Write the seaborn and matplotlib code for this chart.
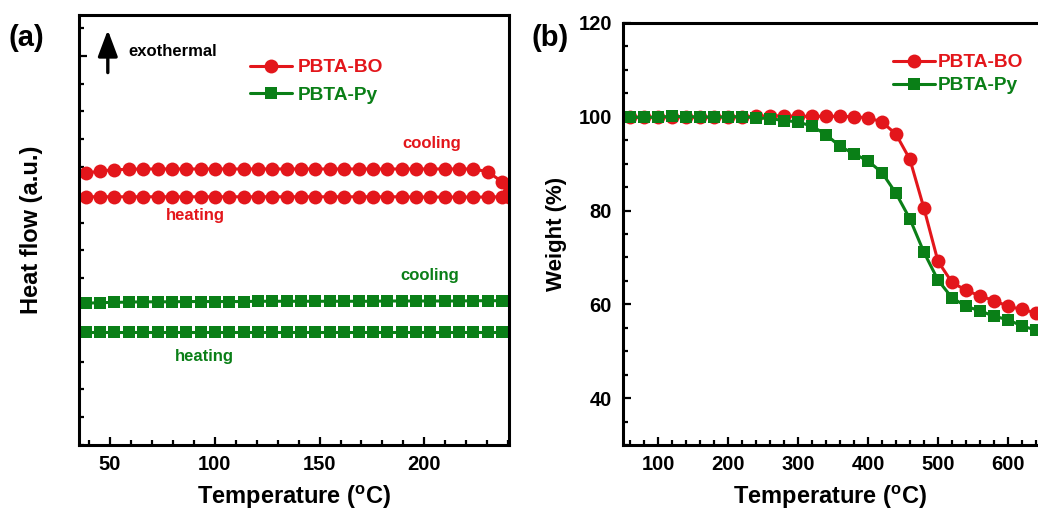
import numpy as np
import pandas as pd
import seaborn as sns
import matplotlib.pyplot as plt
from matplotlib.lines import Line2D
from matplotlib.ticker import MultipleLocator, FixedLocator, NullFormatter

sns.set_style("ticks")
plt.rcParams['font.family'] = ['Liberation Sans', 'DejaVu Sans']
plt.rcParams['font.weight'] = 'bold'
plt.rcParams['mathtext.fontset'] = 'custom'
plt.rcParams['mathtext.rm'] = 'Liberation Sans:bold'
plt.rcParams['mathtext.it'] = 'Liberation Sans:bold'
plt.rcParams['mathtext.default'] = 'rm'
for k in ['text.color', 'axes.labelcolor', 'xtick.color', 'ytick.color', 'axes.edgecolor']:
    plt.rcParams[k] = 'black'

RED = '#E3161B'
GREEN = '#0A7F17'

# (a) DSC - temperatury i przesuniete krzywe (j. umowne)
temp_a = [38.4, 45.3, 52.1, 59.0, 65.8, 72.7, 79.5, 86.4, 93.2, 100.1, 107.0, 113.8, 120.7, 127.5, 134.4,
          141.2, 148.0, 154.9, 161.7, 168.6, 175.4, 182.3, 189.1, 196.0, 202.8, 209.7, 216.5, 223.4, 230.2,
          237.1, 240.5]
bo_heat = [8.93, 8.93, 8.93, 8.93, 8.93, 8.93, 8.93, 8.93, 8.93, 8.93, 8.93, 8.93, 8.93, 8.93, 8.93,
           8.93, 8.93, 8.93, 8.93, 8.93, 8.93, 8.93, 8.93, 8.92, 8.92, 8.92, 8.92, 8.92, 8.92, 8.93, 8.93]
bo_cool = [9.77, 9.86, 9.90, 9.92, 9.93, 9.93, 9.93, 9.93, 9.93, 9.93, 9.93, 9.93, 9.93, 9.93, 9.93,
           9.93, 9.93, 9.93, 9.93, 9.93, 9.93, 9.93, 9.93, 9.93, 9.93, 9.93, 9.93, 9.93, 9.83, 9.47, 9.11]
py_heat = [4.08, 4.08, 4.08, 4.08, 4.08, 4.08, 4.08, 4.08, 4.08, 4.08, 4.08, 4.08, 4.08, 4.08, 4.08,
           4.08, 4.08, 4.08, 4.08, 4.08, 4.08, 4.08, 4.08, 4.08, 4.08, 4.08, 4.08, 4.08, 4.08, 4.08, 4.08]
py_cool = [5.10, 5.12, 5.13, 5.14, 5.15, 5.15, 5.15, 5.16, 5.16, 5.16, 5.16, 5.16, 5.17, 5.17, 5.17,
           5.17, 5.17, 5.17, 5.17, 5.17, 5.17, 5.18, 5.18, 5.18, 5.18, 5.18, 5.18, 5.19, 5.19, 5.19, 5.19]

# (b) TGA
temp_b = [60, 80, 100, 120, 140, 160, 180, 200, 220, 240, 260, 280, 300, 320, 340,
          360, 380, 400, 420, 440, 460, 480, 500, 520, 540, 560, 580, 600, 620, 640]
bo_tga = [99.9, 99.9, 99.9, 100.0, 99.9, 99.9, 99.9, 100.0, 100.0, 100.1, 100.2, 100.2, 100.1, 100.1, 100.1,
          100.1, 100.0, 99.8, 98.9, 96.3, 90.9, 80.5, 69.2, 64.7, 63.0, 61.8, 60.8, 59.6, 58.9, 58.2]
py_tga = [99.9, 99.9, 99.9, 100.1, 100.0, 100.0, 99.9, 100.0, 100.0, 99.8, 99.6, 99.2, 98.9, 98.0, 96.2,
          93.7, 92.1, 90.6, 88.1, 83.7, 78.2, 71.1, 65.2, 61.4, 59.6, 58.6, 57.5, 56.7, 55.4, 54.5]

fig = plt.figure(figsize=(10.38, 5.11), dpi=100)
ax1 = fig.add_axes([0.0761, 0.1292, 0.4143, 0.8415])
ax2 = fig.add_axes([0.6002, 0.1292, 0.3998, 0.8258])

kw_bo = dict(color=RED, marker='o', markersize=10, linewidth=2.2, markeredgewidth=0, sort=False)
kw_py = dict(color=GREEN, marker='s', markersize=8.2, linewidth=2.2, markeredgewidth=0, sort=False)

sns.lineplot(x=temp_a, y=bo_heat, ax=ax1, **kw_bo)
sns.lineplot(x=temp_a, y=bo_cool, ax=ax1, **kw_bo)
sns.lineplot(x=temp_a, y=py_heat, ax=ax1, **kw_py)
sns.lineplot(x=temp_a, y=py_cool, ax=ax1, **kw_py)

sns.lineplot(x=temp_b, y=bo_tga, ax=ax2, **kw_bo)
sns.lineplot(x=temp_b, y=py_tga, ax=ax2, **kw_py)

def styl(ax):
    for s in ax.spines.values():
        s.set_linewidth(2.2)
    ax.tick_params(which='both', direction='in', width=1.6, labelsize=14.5)
    ax.tick_params(which='major', length=6, pad=7)
    ax.tick_params(which='minor', length=3.5)
    for lab in ax.get_xticklabels() + ax.get_yticklabels():
        lab.set_fontweight('bold')

# panel a
ax1.set_xlim(35.2, 240.4)
ax1.set_ylim(0, 15.47)
ax1.xaxis.set_major_locator(MultipleLocator(50))
ax1.xaxis.set_minor_locator(MultipleLocator(10))
ax1.yaxis.set_major_locator(FixedLocator([4, 9, 14]))
ax1.yaxis.set_minor_locator(MultipleLocator(1))
ax1.yaxis.set_major_formatter(NullFormatter())
styl(ax1)
ax1.set_xlabel('Temperature ($^{o}$C)', fontsize=17, fontweight='bold')
ax1.set_ylabel('Heat flow (a.u.)', fontsize=17, fontweight='bold')
ax1.xaxis.set_label_coords(0.5, -0.09)
ax1.xaxis.label.set_va('top')
ax1.yaxis.set_label_coords(-0.084, 0.5)

ax1.annotate('', xy=(0.067, 0.965), xytext=(0.067, 0.866), xycoords='axes fraction',
             arrowprops=dict(arrowstyle='-|>,head_width=0.3,head_length=0.8', lw=2.4, color='k',
                             mutation_scale=20, shrinkA=0, shrinkB=0))
ax1.text(0.114, 0.914, 'exothermal', transform=ax1.transAxes, fontsize=12,
         fontweight='bold', va='center')
ax1.text(0.753, 0.702, 'cooling', transform=ax1.transAxes, fontsize=12, color=RED, fontweight='bold', va='center')
ax1.text(0.202, 0.533, 'heating', transform=ax1.transAxes, fontsize=12, color=RED, fontweight='bold', va='center')
ax1.text(0.747, 0.395, 'cooling', transform=ax1.transAxes, fontsize=12, color=GREEN, fontweight='bold', va='center')
ax1.text(0.223, 0.205, 'heating', transform=ax1.transAxes, fontsize=12, color=GREEN, fontweight='bold', va='center')

uchwyty = [Line2D([], [], color=RED, marker='o', markersize=10, lw=2.2, markeredgewidth=0),
           Line2D([], [], color=GREEN, marker='s', markersize=8.2, lw=2.2, markeredgewidth=0)]
ax1.legend(uchwyty, ['PBTA-BO', 'PBTA-Py'], loc='upper left', bbox_to_anchor=(0.398, 0.898),
           frameon=False, handlelength=2.2, handletextpad=0.3, labelspacing=0.52,
           borderpad=0, borderaxespad=0, labelcolor='linecolor', prop={'weight': 'bold', 'size': 13.8})

# panel b
ax2.set_xlim(50, 643)
ax2.set_ylim(30, 120)
ax2.xaxis.set_major_locator(MultipleLocator(100))
ax2.xaxis.set_minor_locator(MultipleLocator(20))
ax2.yaxis.set_major_locator(MultipleLocator(20))
ax2.yaxis.set_minor_locator(MultipleLocator(5))
ax2.spines['right'].set_visible(False)
styl(ax2)
ax2.tick_params(axis='y', which='major', pad=8)
ax2.set_xlabel('Temperature ($^{o}$C)', fontsize=17, fontweight='bold')
ax2.set_ylabel('Weight (%)', fontsize=16, fontweight='bold')
ax2.xaxis.set_label_coords(0.5, -0.092)
ax2.xaxis.label.set_va('top')
ax2.yaxis.set_label_coords(-0.135, 0.5)
ax2.legend(uchwyty, ['PBTA-BO', 'PBTA-Py'], loc='upper left', bbox_to_anchor=(0.651, 0.927),
           frameon=False, handlelength=2.2, handletextpad=0.1, labelspacing=0.3,
           borderpad=0, borderaxespad=0, labelcolor='linecolor', prop={'weight': 'bold', 'size': 13.8})

fig.text(0.008, 1 - 38 / 511, '(a)', fontsize=21, fontweight='bold', va='center')
fig.text(0.512, 1 - 38 / 511, '(b)', fontsize=21, fontweight='bold', va='center')

fig.savefig('out.png', dpi=100)
